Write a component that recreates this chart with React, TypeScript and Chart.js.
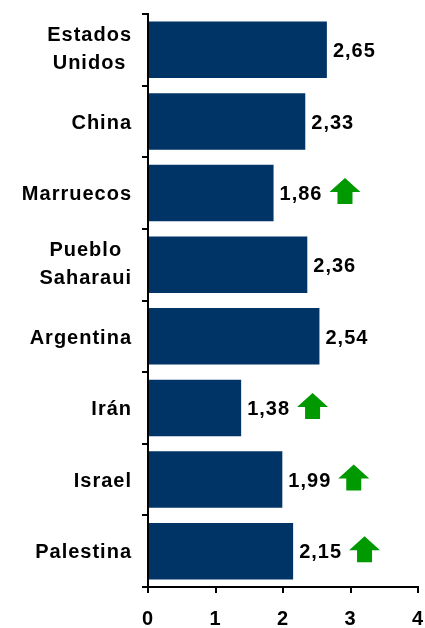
import React, { useEffect, useRef } from "react";
import { Chart, registerables } from "chart.js";

Chart.register(...registerables);

const categories: (string | string[])[] = [
  ["Estados", "Unidos"],
  "China",
  "Marruecos",
  ["Pueblo", "Saharaui"],
  "Argentina",
  "Irán",
  "Israel",
  "Palestina",
];
const values = [2.65, 2.33, 1.86, 2.36, 2.54, 1.38, 1.99, 2.15];
const upArrows = [false, false, true, false, false, true, true, true];
const xMin = 0;
const xMax = 4;

const FONT_FAMILY = 'Arial, "Liberation Sans", sans-serif';
const BAR_COLOR = "#003366";
const ARROW_COLOR = "#009900";

const spacingPlugin = {
  id: "spacing",
  beforeLayout(chart: any) {
    chart.ctx.letterSpacing = "1px";
  },
  beforeDraw(chart: any) {
    chart.ctx.letterSpacing = "1px";
  },
};

const labelsPlugin = {
  id: "customLabels",
  afterDatasetsDraw(chart: any) {
    const ctx = chart.ctx;
    const xs = chart.scales.x;
    const ys = chart.scales.y;
    ctx.save();
    ctx.letterSpacing = "1px";
    ctx.font = `bold 20px ${FONT_FAMILY}`;
    ctx.fillStyle = "#000";
    ctx.textBaseline = "alphabetic";
    const capHalf = 7.2;
    categories.forEach((cat, i) => {
      const cy = ys.getPixelForValue(i);
      const lines = Array.isArray(cat) ? cat : [cat];
      const blockW = Math.max(...lines.map((l) => ctx.measureText(l).width));
      const cx = 132 - blockW / 2;
      ctx.textAlign = "center";
      if (lines.length === 1) {
        ctx.fillText(lines[0], cx, cy + capHalf);
      } else {
        ctx.fillText(lines[0], cx, cy - 16 + capHalf);
        ctx.fillText(lines[1], cx, cy + 12 + capHalf);
      }
    });
    values.forEach((v, i) => {
      const cy = ys.getPixelForValue(i);
      const x = xs.getPixelForValue(v) + 6;
      const txt = v.toFixed(2).replace(".", ",");
      ctx.textAlign = "left";
      ctx.fillStyle = "#000";
      ctx.fillText(txt, x, cy + capHalf);
      if (upArrows[i]) {
        const w = ctx.measureText(txt).width;
        const ax = x + w + 7;
        const top = cy - 15;
        const headH = 14;
        const shaftH = 12;
        const headW = 31;
        const shaftW = 15;
        const mid = ax + headW / 2;
        ctx.fillStyle = ARROW_COLOR;
        ctx.beginPath();
        ctx.moveTo(mid, top);
        ctx.lineTo(ax + headW, top + headH);
        ctx.lineTo(mid + shaftW / 2, top + headH);
        ctx.lineTo(mid + shaftW / 2, top + headH + shaftH);
        ctx.lineTo(mid - shaftW / 2, top + headH + shaftH);
        ctx.lineTo(mid - shaftW / 2, top + headH);
        ctx.lineTo(ax, top + headH);
        ctx.closePath();
        ctx.fill();
      }
    });
    ctx.restore();
  },
};

export default function App() {
  const ref = useRef<HTMLCanvasElement | null>(null);
  useEffect(() => {
    if (!ref.current) return;
    const chart = new Chart(ref.current, {
      type: "bar",
      data: {
        labels: categories.map((c) => (Array.isArray(c) ? c.join(" ") : c)),
        datasets: [
          {
            data: values,
            backgroundColor: BAR_COLOR,
            borderWidth: 0,
            categoryPercentage: 1,
            barPercentage: 0.79,
          },
        ],
      },
      options: {
        indexAxis: "y",
        responsive: false,
        animation: false,
        layout: { padding: { top: 14, right: 7, bottom: 0, left: 0 } },
        plugins: { legend: { display: false }, tooltip: { enabled: false } },
        scales: {
          x: {
            type: "linear",
            min: xMin,
            max: xMax,
            ticks: {
              stepSize: 1,
              color: "#000",
              padding: 14,
              font: { family: FONT_FAMILY, size: 20, weight: "bold" },
            },
            grid: {
              drawOnChartArea: false,
              tickLength: 6,
              color: "#000",
              lineWidth: 2,
            },
            border: { color: "#000", width: 2 },
            afterFit: (s: any) => {
              s.height = 41;
              s.paddingRight = 0;
              s.paddingLeft = 0;
            },
          },
          y: {
            type: "category",
            ticks: { display: false },
            grid: {
              offset: true,
              drawOnChartArea: false,
              tickLength: 6,
              color: "#000",
              lineWidth: 2,
            },
            border: { color: "#000", width: 2 },
            afterFit: (s: any) => {
              s.width = 148;
              s.paddingTop = 0;
              s.paddingBottom = 0;
            },
          },
        },
      } as any,
      plugins: [spacingPlugin, labelsPlugin],
    });
    return () => chart.destroy();
  }, []);
  return (
    <div style={{ position: "absolute", left: 0, top: 0, width: 425, height: 628 }}>
      <canvas ref={ref} width={425} height={628} />
    </div>
  );
}
